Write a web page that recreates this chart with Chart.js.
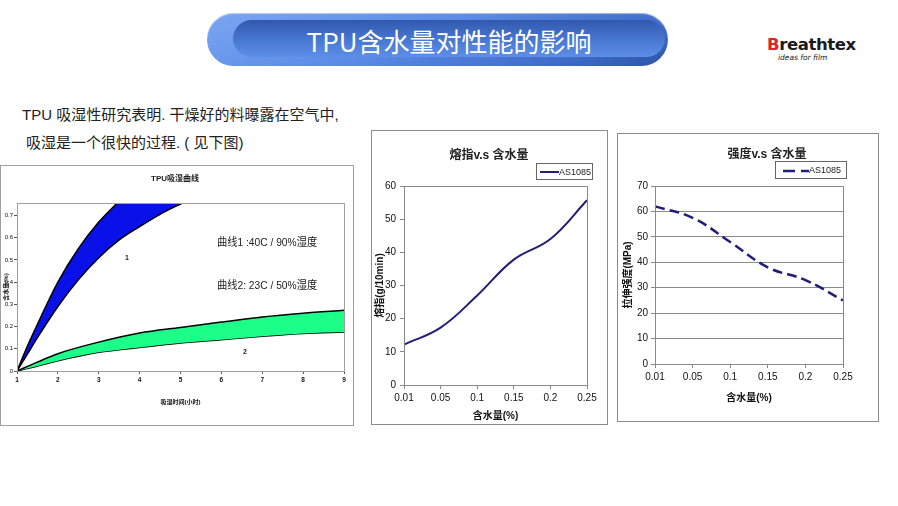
<!DOCTYPE html>
<html>
<head>
<meta charset="utf-8">
<script src="https://cdn.jsdelivr.net/npm/chart.js@4.4.1/dist/chart.umd.min.js"></script>
<style>
  body { margin: 0; background: #fff; }
  #slide { position: relative; width: 898px; height: 506px; overflow: hidden; background: #fff;
    font-family: "Liberation Sans", "Noto Sans CJK SC", sans-serif; color: #222; }
  .abs { position: absolute; }
  .c { transform: translate(-50%, -50%); white-space: nowrap; }
  .l { transform: translateY(-50%); white-space: nowrap; }
  .banner { left: 207px; top: 13px; width: 461px; height: 53px; border-radius: 27px;
    background: linear-gradient(160deg, #7aa6f2 0%, #5b8be6 45%, #3f6cc8 80%, #2d55a6 100%);
    box-shadow: inset 0 1px 1px rgba(255,255,255,.5); }
  .banner-in { left: 233px; top: 20px; width: 432px; height: 37px; border-radius: 19px;
    background: linear-gradient(180deg, #3358ad 0%, #4675cf 50%, #5c8fe9 100%); }
  .banner-txt { left: 449px; top: 40px; color: #fff; font-size: 26px; font-family: "Noto Sans CJK SC", sans-serif; }
  .box { box-sizing: border-box; border: 1px solid #8c8c8c; background: #fff; }
  .box canvas { position: absolute; left: 0; top: 0; }
  .ctitle { font-weight: bold; font-size: 12px; }
  .legend { box-sizing: border-box; border: 1px solid #666; background: #fff; font-size: 9px; }
  .legend svg { position: absolute; }
  .legend span { position: absolute; top: 50%; transform: translateY(-50%); }
  .note { font-size: 11.5px; color: #222; white-space: nowrap;
    transform: translateY(-50%) scaleX(0.89); transform-origin: left center; }
</style>
</head>
<body>
<div id="slide">
  <div class="abs banner"></div>
  <div class="abs banner-in"></div>
  <div class="abs c banner-txt">TPU含水量对性能的影响</div>

  <div class="abs l" style="left:767px;top:44px;font-family:'DejaVu Sans',sans-serif;font-weight:bold;font-size:16.5px;color:#1a1a1a;letter-spacing:-0.4px;"><span style="color:#d9262c;">B</span>reathtex</div>
  <div class="abs l" style="left:778px;top:57px;font-family:'DejaVu Sans',sans-serif;font-style:italic;font-size:7.5px;color:#1a1a1a;">ideas for film</div>

  <div class="abs l" style="left:22px;top:113px;font-size:15px;color:#222;">TPU 吸湿性研究表明. 干燥好的料曝露在空气中,</div>
  <div class="abs l" style="left:26px;top:141px;font-size:15px;color:#222;">吸湿是一个很快的过程. ( 见下图)</div>

  <!-- left chart -->
  <div class="abs box" style="left:0;top:165px;width:354px;height:261px;border-color:#a0a0a0;">
    <canvas id="absorb" width="352" height="259"></canvas>
  </div>
  <div class="abs c" style="left:175px;top:177px;font-size:8px;font-weight:bold;">TPU吸湿曲线</div>
  <div class="abs note" style="left:217px;top:241px;">曲线1 :40C / 90%湿度</div>
  <div class="abs note" style="left:217px;top:284px;">曲线2: 23C / 50%湿度</div>
  <div class="abs c" style="left:127px;top:257px;font-size:7px;font-weight:bold;">1</div>
  <div class="abs c" style="left:245px;top:351px;font-size:7px;font-weight:bold;">2</div>

  <!-- melt index chart -->
  <div class="abs box" style="left:371px;top:130px;width:237px;height:295px;">
    <canvas id="melt" width="235" height="293"></canvas>
  </div>
  <div class="abs c ctitle" style="left:489px;top:153px;">熔指v.s 含水量</div>
  <div class="abs legend" style="left:536px;top:163px;width:57px;height:17px;">
    <svg style="left:3px;top:6px;" width="19" height="4"><line x1="0" y1="2" x2="19" y2="2" stroke="#1f1f7a" stroke-width="2"/></svg>
    <span style="left:22px;">AS1085</span>
  </div>

  <!-- strength chart -->
  <div class="abs box" style="left:617px;top:133px;width:262px;height:289px;">
    <canvas id="strength" width="260" height="287"></canvas>
  </div>
  <div class="abs c ctitle" style="left:767px;top:152px;">强度v.s 含水量</div>
  <div class="abs legend" style="left:775px;top:161px;width:72px;height:18px;">
    <svg style="left:7px;top:7px;" width="26" height="4"><line x1="0" y1="2" x2="26" y2="2" stroke="#1f1f7a" stroke-width="2.5" stroke-dasharray="12,6"/></svg>
    <span style="left:33px;">AS1085</span>
  </div>
</div>

<script>
// TPU吸湿曲线: [吸湿时间(小时), 含水量(%)]
// band 1 runs off the top of the plot (axis stops at 0.756)
const curve1Upper = [[1, 0], [1.25, 0.11], [1.5, 0.21], [2, 0.40], [2.5, 0.55], [3, 0.67], [3.45, 0.756]];
const curve1Lower = [[1, 0], [1.25, 0.075], [1.5, 0.15], [2, 0.29], [2.5, 0.41], [3, 0.51], [3.5, 0.59], [4, 0.65], [4.5, 0.705], [5.05, 0.756]];
const curve2Upper = [[1, 0], [1.5, 0.04], [2, 0.078], [3, 0.13], [4, 0.171], [5, 0.196], [6, 0.22], [7, 0.243], [8, 0.26], [9, 0.273]];
const curve2Lower = [[1, 0], [1.5, 0.022], [2, 0.046], [3, 0.084], [4, 0.106], [5, 0.126], [6, 0.141], [7, 0.156], [8, 0.169], [9, 0.175]];

// 含水量 categories and AS1085 results
const moisture = ['0.01', '0.05', '0.1', '0.15', '0.2', '0.25'];
const meltIndex = [12.2, 17.3, 27, 37.8, 44, 55.7];
const tensile = [62, 57.5, 48, 38, 33, 25];

const NAVY = '#1f1f7a';
const GREY = '#8a8a8a';

Chart.defaults.font.family = '"Liberation Sans", "Noto Sans CJK SC", sans-serif';
Chart.defaults.color = '#111';
Chart.defaults.animation = false;

// plot area border like the excel charts
const plotFrame = {
  id: 'plotFrame',
  afterDatasetsDraw(chart, args, opts) {
    const { ctx, chartArea: a } = chart;
    ctx.save();
    ctx.strokeStyle = opts.color || GREY;
    ctx.lineWidth = 1;
    ctx.strokeRect(Math.round(a.left) + 0.5, Math.round(a.top) + 0.5, Math.round(a.right - a.left), Math.round(a.bottom - a.top));
    ctx.restore();
  }
};

const fixW = w => s => { s.width = w; };
const fixH = h => s => { s.height = h; };

const band = (data, fill, color) => ({
  data, fill, backgroundColor: color, borderColor: '#000', borderWidth: 1.5,
  pointRadius: 0, cubicInterpolationMode: 'monotone',
});

// band 1: blue from the lower curve up to the top, then white above the upper curve
// (dataset 0 is drawn last, so its white fill covers the blue above the upper edge)
new Chart(document.getElementById('absorb'), {
  type: 'line',
  data: {
    datasets: [
      band(curve1Upper, 'end', '#ffffff'),
      band(curve1Lower, 'end', '#0a10e8'),
      band(curve2Upper, '+1', '#1cff88'),
      band(curve2Lower, false),
    ],
  },
  options: {
    responsive: false,
    layout: { padding: { left: 0, right: 9, top: 37, bottom: 0 } },
    plugins: { legend: { display: false }, tooltip: { enabled: false }, plotFrame: { color: '#a0a0a0' } },
    scales: {
      x: {
        type: 'linear', min: 1, max: 9,
        afterFit: fixH(54),
        border: { color: '#555' },
        grid: { drawOnChartArea: false, tickLength: 3, color: '#555' },
        ticks: { stepSize: 1, padding: 2, font: { size: 6.5, weight: 'bold' }, maxRotation: 0 },
        title: { display: true, text: '吸湿时间(小时)', font: { size: 6, weight: 'bold' }, padding: { top: 0, bottom: 19 } },
      },
      y: {
        min: 0, max: 0.756,
        afterFit: fixW(16),
        border: { color: '#555' },
        grid: { drawOnChartArea: false, tickLength: 3, color: '#555' },
        ticks: { stepSize: 0.1, includeBounds: false, padding: 1, font: { size: 6 } },
        title: { display: true, text: '含水量(%)', font: { size: 6, weight: 'bold' }, padding: { top: 1.5, bottom: 0 } },
      },
    },
  },
  plugins: [plotFrame],
});

new Chart(document.getElementById('melt'), {
  type: 'line',
  data: {
    labels: moisture,
    datasets: [{ label: 'AS1085', data: meltIndex, borderColor: NAVY, borderWidth: 2, pointRadius: 0, tension: 0.4, fill: false }],
  },
  options: {
    responsive: false,
    layout: { padding: { left: 0, right: 20, top: 55, bottom: 0 } },
    plugins: { legend: { display: false }, tooltip: { enabled: false }, plotFrame: { color: GREY } },
    scales: {
      x: {
        offset: false,
        afterFit: fixH(39),
        border: { color: GREY },
        grid: { drawOnChartArea: false, tickLength: 4, color: GREY },
        ticks: { padding: 3, font: { size: 10 }, maxRotation: 0, autoSkip: false },
        title: { display: true, text: '含水量(%)', font: { size: 10, weight: 'bold' }, padding: { top: 0, bottom: 2 } },
      },
      y: {
        min: 0, max: 60,
        afterFit: fixW(32),
        border: { color: GREY },
        grid: { drawOnChartArea: false, tickLength: 4, color: GREY },
        ticks: { stepSize: 10, padding: 4, font: { size: 10 } },
        title: { display: true, text: '熔指(g/10min)', font: { size: 10, weight: 'bold' }, padding: { top: 2, bottom: 0 } },
      },
    },
  },
  plugins: [plotFrame],
});

new Chart(document.getElementById('strength'), {
  type: 'line',
  data: {
    labels: moisture,
    datasets: [{ label: 'AS1085', data: tensile, borderColor: NAVY, borderWidth: 2.5, borderDash: [10, 5], pointRadius: 0, tension: 0.4, fill: false }],
  },
  options: {
    responsive: false,
    layout: { padding: { left: 0, right: 35, top: 52, bottom: 0 } },
    plugins: { legend: { display: false }, tooltip: { enabled: false }, plotFrame: { color: GREY } },
    scales: {
      x: {
        offset: false,
        afterFit: fixH(57),
        border: { color: GREY },
        grid: { drawOnChartArea: false, tickLength: 4, color: GREY },
        ticks: { padding: 3, font: { size: 10 }, maxRotation: 0, autoSkip: false },
        title: { display: true, text: '含水量(%)', font: { size: 10, weight: 'bold' }, padding: { top: 0, bottom: 17 } },
      },
      y: {
        min: 0, max: 70,
        afterFit: fixW(37),
        border: { color: GREY },
        grid: { drawOnChartArea: true, tickLength: 4, color: GREY },
        ticks: { stepSize: 10, padding: 3, font: { size: 10 } },
        title: { display: true, text: '拉伸强度(MPa)', font: { size: 10, weight: 'bold' }, padding: { top: 4, bottom: 0 } },
      },
    },
  },
  plugins: [plotFrame],
});
</script>
</body>
</html>
